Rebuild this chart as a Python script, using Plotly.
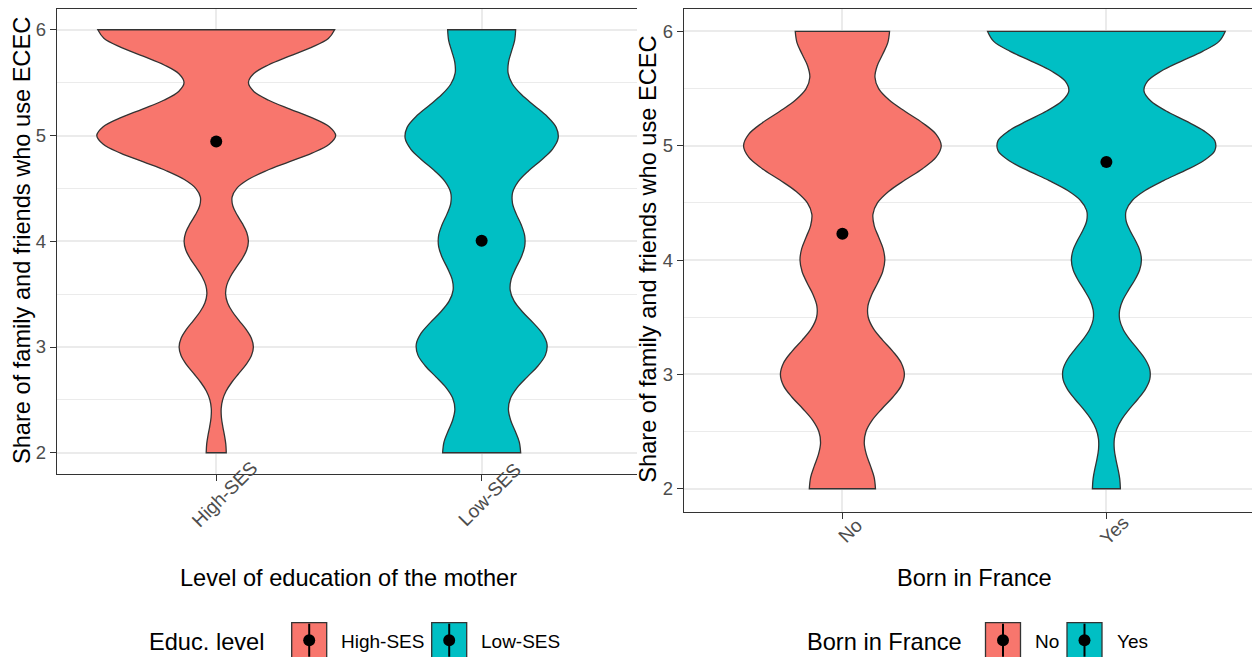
import numpy as np
import plotly.graph_objects as go

# ---------------- data ----------------
share_values = [2, 3, 4, 5, 6]          # possible answers (y)

educ_categories = ["High-SES", "Low-SES"]
high_ses_counts = [10, 37, 32, 119, 118]
low_ses_counts = [38, 64, 42, 75, 33]
educ_bandwidths = [0.25, 0.31]

born_categories = ["No", "Yes"]
born_no_counts = [33, 62, 42, 99, 47]
born_yes_counts = [14, 44, 35, 110, 119]
born_bandwidths = [0.30, 0.263]

y_ticks = [2, 3, 4, 5, 6]
y_minor = [2.5, 3.5, 4.5, 5.5]

y_title = "Share of family and friends who use ECEC"
educ_xtitle = "Level of education of the mother"
born_xtitle = "Born in France"
educ_legend_title = "Educ. level"
born_legend_title = "Born in France"

fill_colors = ["#F8766D", "#00BFC4"]

# ---------------- helpers ----------------
# the page body has an 8px margin: the figure fills the rest of the window
OFF = 8
W, H = 1260 - OFF, 657 - OFF
def px(x):
    return (x - OFF) / W
def py(y):
    return 1 - (y - OFF) / H

def kde_peak(samples, bw):
    grid = np.linspace(samples.min(), samples.max(), 512)
    d = np.exp(-0.5 * ((grid[:, None] - samples[None, :]) / bw) ** 2).sum(axis=1)
    return (d / (len(samples) * bw * np.sqrt(2 * np.pi))).max()

FONT = "Liberation Sans, Arial, sans-serif"
OUT = "#333333"

fig = go.Figure()

panels = [
    dict(cats=educ_categories, counts=[high_ses_counts, low_ses_counts],
         bws=educ_bandwidths, xa="x", ya="y"),
    dict(cats=born_categories, counts=[born_no_counts, born_yes_counts],
         bws=born_bandwidths, xa="x2", ya="y2"),
]

for p in panels:
    samples = [np.repeat(share_values, c).astype(float) for c in p["counts"]]
    peaks = [kde_peak(s, bw) for s, bw in zip(samples, p["bws"])]
    maxpeak = max(peaks)
    for i, (cat, s, bw) in enumerate(zip(p["cats"], samples, p["bws"])):
        fig.add_trace(go.Violin(
            x=[cat] * len(s), y=s, xaxis=p["xa"], yaxis=p["ya"],
            bandwidth=bw, spanmode="hard", scalemode="width",
            width=0.9 * peaks[i] / maxpeak, points=False,
            fillcolor=fill_colors[i], line=dict(color=OUT, width=1.3),
            opacity=1, box_visible=False, meanline_visible=False,
            showlegend=False, hoverinfo="skip"))
    for i, (cat, s) in enumerate(zip(p["cats"], samples)):
        fig.add_trace(go.Scatter(
            x=[cat], y=[s.mean()], xaxis=p["xa"], yaxis=p["ya"],
            mode="markers", marker=dict(color="black", size=12),
            showlegend=False, hoverinfo="skip"))

axis_common = dict(showline=True, linecolor=OUT, linewidth=1.3,
                   ticks="outside", ticklen=6, tickcolor=OUT, tickwidth=1.3,
                   showgrid=True, gridcolor="#EBEBEB", gridwidth=1.5,
                   zeroline=False)

def yaxis(domain, anchor):
    return dict(axis_common, domain=domain, anchor=anchor, range=[1.8, 6.2],
                tickvals=y_ticks, mirror=False,
                tickfont=dict(size=18.5, color="#4D4D4D", family=FONT),
                minor=dict(tickvals=y_minor, showgrid=True, gridcolor="#EBEBEB",
                           gridwidth=0.8, ticks=""))

def xaxis(domain, anchor, cats, rng):
    return dict(axis_common, domain=domain, anchor=anchor, type="category",
                categoryorder="array", categoryarray=cats, range=rng,
                mirror=True, showticklabels=False)

fig.update_layout(
    width=W, height=H, margin=dict(l=0, r=0, t=0, b=0),
    paper_bgcolor="white", plot_bgcolor="white",
    font=dict(family=FONT, color="black"),
    violinmode="overlay", showlegend=False,
    xaxis=xaxis([px(57), px(637)], "y", educ_categories, [-0.6, (637 - 57) / 265.4 - 0.6]),
    yaxis=yaxis([py(473.9), py(8.6)], "x"),
    xaxis2=xaxis([px(684), 1.0], "y2", born_categories, [-0.6, (1260 - 684) / 264.0 - 0.6]),
    yaxis2=yaxis([py(511.6), py(8.6)], "x2"),
)

ann = []
shapes = []
TITLE = 23.6
SMALL = 19

# rotated x tick labels
for cats, xref, ycen in [(educ_categories, "x", 494.5), (born_categories, "x2", 530.5)]:
    for i, c in enumerate(cats):
        ann.append(dict(text=c, x=i, xref=xref, y=py(ycen), yref="paper",
                        xshift=8, xanchor="center", yanchor="middle",
                        textangle=-45, showarrow=False,
                        font=dict(size=SMALL, color="#4D4D4D", family=FONT)))

# axis titles
ann.append(dict(text=educ_xtitle, x=px(348.5), y=py(578), xref="paper", yref="paper",
                showarrow=False, xanchor="center", yanchor="middle",
                font=dict(size=TITLE, family=FONT)))
ann.append(dict(text=born_xtitle, x=px(974.4), y=py(578), xref="paper", yref="paper",
                showarrow=False, xanchor="center", yanchor="middle",
                font=dict(size=TITLE, family=FONT)))
ann.append(dict(text=y_title, x=px(22), y=py(241), xref="paper", yref="paper",
                showarrow=False, xanchor="center", yanchor="middle", textangle=-90,
                font=dict(size=TITLE, family=FONT)))
ann.append(dict(text=y_title, x=px(648), y=py(259.7), xref="paper", yref="paper",
                showarrow=False, xanchor="center", yanchor="middle", textangle=-90,
                font=dict(size=TITLE, family=FONT)))

# manual legends
legends = [
    dict(title=educ_legend_title, tx=146.7, cats=educ_categories,
         boxes=[291.7, 431.7]),
    dict(title=born_legend_title, tx=805, cats=born_categories,
         boxes=[985.5, 1067]),
]
KEY = 35
ktop = 622.7
for lg in legends:
    ann.append(dict(text=lg["title"], x=px(lg["tx"]), y=py(641.5), xref="paper", yref="paper",
                    showarrow=False, xanchor="left", yanchor="middle",
                    font=dict(size=TITLE, family=FONT)))
    for i, (c, bx) in enumerate(zip(lg["cats"], lg["boxes"])):
        shapes.append(dict(type="rect", xref="paper", yref="paper",
                           x0=px(bx), x1=px(bx + KEY), y0=py(ktop + KEY), y1=py(ktop),
                           fillcolor=fill_colors[i], line=dict(color=OUT, width=1.3)))
        cx = bx + KEY / 2
        shapes.append(dict(type="line", xref="paper", yref="paper",
                           x0=px(cx), x1=px(cx), y0=py(ktop + KEY - 1), y1=py(ktop + 1),
                           line=dict(color="black", width=2)))
        shapes.append(dict(type="circle", xref="paper", yref="paper",
                           xsizemode="pixel", ysizemode="pixel",
                           xanchor=px(cx), yanchor=py(ktop + KEY / 2),
                           x0=-6, x1=6, y0=-6, y1=6,
                           fillcolor="black", line=dict(color="black", width=0)))
        ann.append(dict(text=c, x=px(bx + KEY + 12.5), y=py(641), xref="paper", yref="paper",
                        showarrow=False, xanchor="left", yanchor="middle",
                        font=dict(size=SMALL, family=FONT)))

fig.update_layout(annotations=ann, shapes=shapes)

fig.write_html("out.html", config={"displayModeBar": False})
